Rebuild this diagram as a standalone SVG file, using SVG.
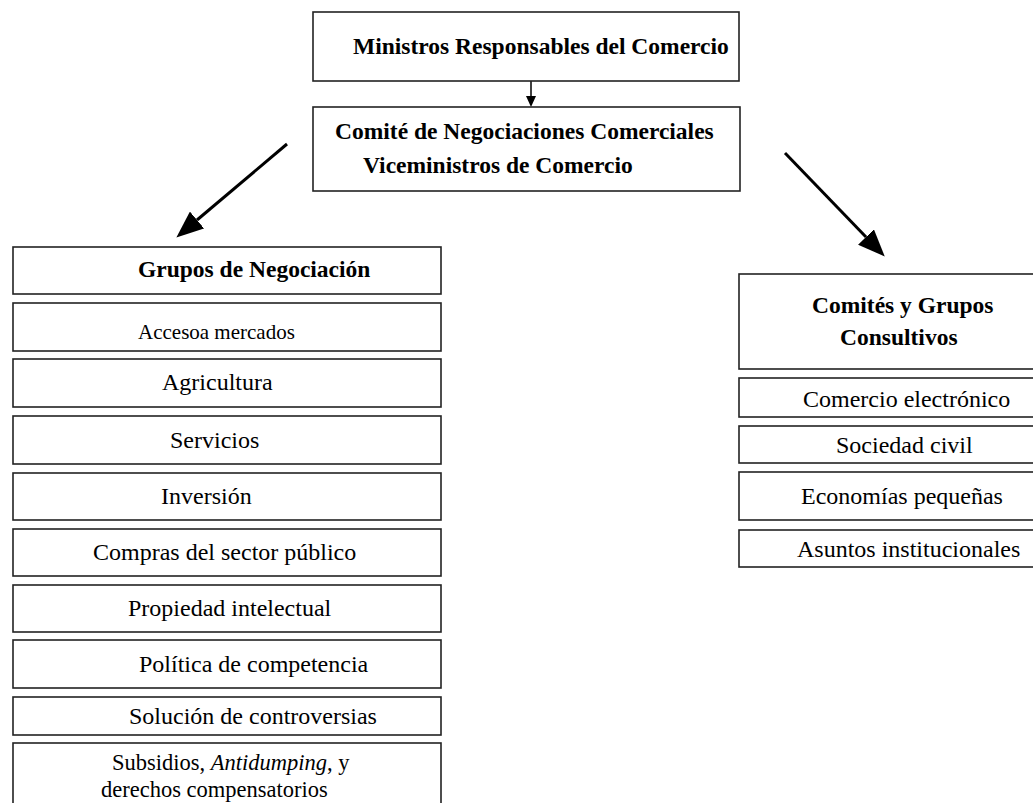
<svg xmlns="http://www.w3.org/2000/svg" width="1033" height="803" viewBox="0 0 1033 803">
<style>
rect.b{fill:#fff;stroke:#222;stroke-width:1.6}
text{font-family:"Liberation Serif","Times New Roman",serif;fill:#000}
.h{font-weight:bold;font-size:23.5px}
.r{font-size:24px}
.s{font-size:21px}
.t{font-size:22.5px}
.c{stroke:#000;fill:none}
</style>
<defs>
<marker id="big" markerUnits="userSpaceOnUse" markerWidth="27" markerHeight="22" refX="0" refY="11" orient="auto"><path d="M0,0 L27,11 L0,22 z" fill="#000"/></marker>
<marker id="small" markerUnits="userSpaceOnUse" markerWidth="11" markerHeight="10" refX="0" refY="5" orient="auto"><path d="M0,0 L11,5 L0,10 z" fill="#000"/></marker>
</defs>
<rect width="1033" height="803" fill="#fff"/>
<g id="connectors">
<line class="c" x1="531" y1="81" x2="531" y2="96" stroke-width="1.5" marker-end="url(#small)"/>
<line class="c" x1="287" y1="144" x2="197" y2="220" stroke-width="3" marker-end="url(#big)"/>
<line class="c" x1="785" y1="153" x2="866" y2="237" stroke-width="3" marker-end="url(#big)"/>
</g>
<g id="ministros"><rect class="b" x="313" y="12" width="426" height="69"/><text class="h" x="353" y="54">Ministros Responsables del Comercio</text></g>
<g id="comite"><rect class="b" x="313" y="107" width="427" height="84"/><text class="h" x="335" y="139">Comité de Negociaciones Comerciales</text><text class="h" x="363" y="173">Viceministros de Comercio</text></g>
<g id="grupos"><rect class="b" x="13" y="247" width="428" height="47"/><text class="h" x="138" y="277">Grupos de Negociación</text></g>
<g id="acceso"><rect class="b" x="13" y="303" width="428" height="48"/><text class="s" x="138" y="339">Accesoa mercados</text></g>
<g id="agricultura"><rect class="b" x="13" y="359" width="428" height="48"/><text class="r" x="162" y="390">Agricultura</text></g>
<g id="servicios"><rect class="b" x="13" y="416" width="428" height="48"/><text class="r" x="170" y="448">Servicios</text></g>
<g id="inversion"><rect class="b" x="13" y="473" width="428" height="47"/><text class="r" x="161" y="504">Inversión</text></g>
<g id="compras"><rect class="b" x="13" y="529" width="428" height="47"/><text class="r" x="93" y="560">Compras del sector público</text></g>
<g id="propiedad"><rect class="b" x="13" y="585" width="428" height="47"/><text class="r" x="128" y="616">Propiedad intelectual</text></g>
<g id="politica"><rect class="b" x="13" y="640" width="428" height="48"/><text class="r" x="139" y="672">Política de competencia</text></g>
<g id="solucion"><rect class="b" x="13" y="697" width="428" height="38"/><text class="r" x="129" y="724">Solución de controversias</text></g>
<g id="subsidios"><rect class="b" x="13" y="743" width="428" height="80"/><text class="t" x="112" y="770">Subsidios, <tspan font-style="italic">Antidumping</tspan>, y</text><text class="t" x="101" y="797">derechos compensatorios</text></g>
<g id="comites"><rect class="b" x="739" y="274" width="310" height="95"/><text class="h" x="812" y="313">Comités y Grupos</text><text class="h" x="840" y="345">Consultivos</text></g>
<g id="comercio-e"><rect class="b" x="739" y="378" width="310" height="39"/><text class="r" x="803" y="407">Comercio electrónico</text></g>
<g id="sociedad"><rect class="b" x="739" y="426" width="310" height="37"/><text class="r" x="836" y="453">Sociedad civil</text></g>
<g id="economias"><rect class="b" x="739" y="472" width="310" height="48"/><text class="r" x="801" y="504">Economías pequeñas</text></g>
<g id="asuntos"><rect class="b" x="739" y="530" width="310" height="37"/><text class="r" x="797" y="557">Asuntos institucionales</text></g>
</svg>
